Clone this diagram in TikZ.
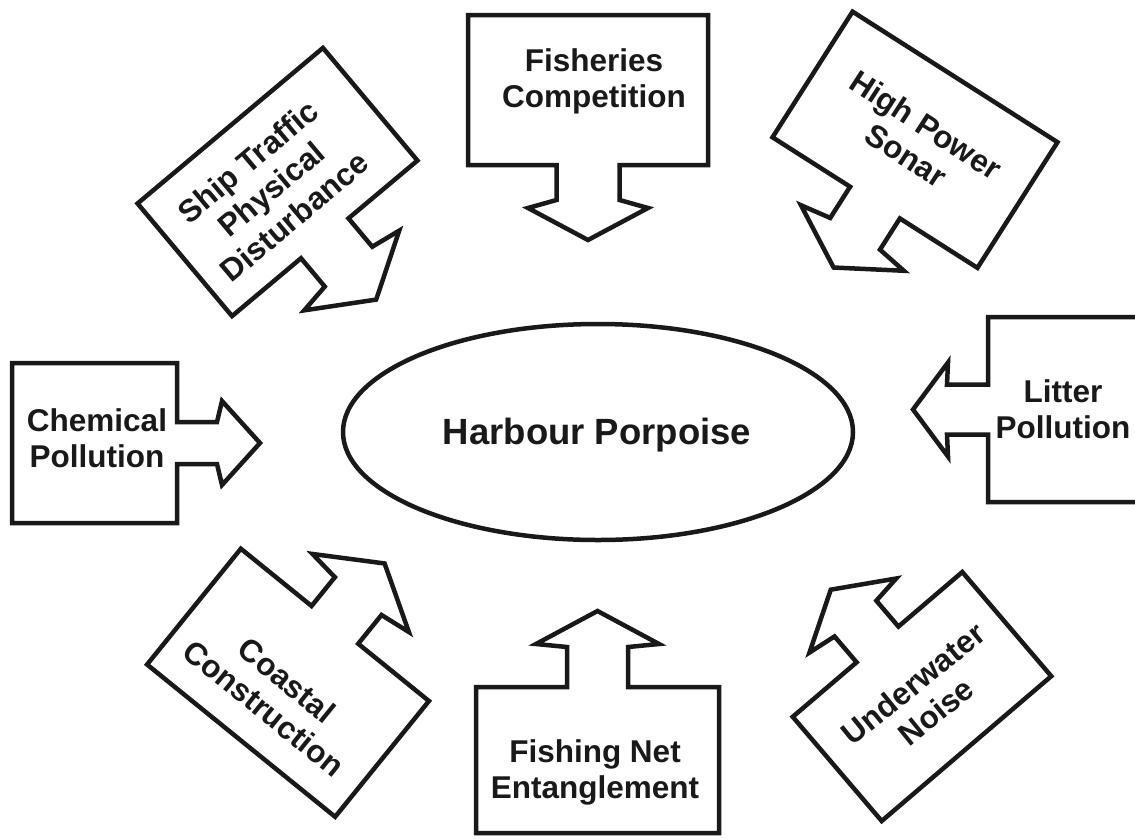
\documentclass[tikz,border=0pt]{standalone}
\usepackage{fontspec}
\setmainfont{Liberation Sans}
\newcommand\cshape[7]{%
  \draw[cobox] ({-#1/2},{-#2/2}) -- ({#1/2},{-#2/2}) -- ({#1/2},{#2/2}) -- ({#3},{#2/2})
    -- ({#3},{#2/2+#4}) -- ({#6},{#2/2+#5}) -- (0,{#2/2+#7}) -- ({-#6},{#2/2+#5})
    -- ({-#3},{#2/2+#4}) -- ({-#3},{#2/2}) -- ({-#1/2},{#2/2}) -- cycle;}
\begin{document}
\begin{tikzpicture}[x=1pt,y=-1pt,
  cobox/.style={draw=black!90, line width=4.5pt, fill=white, line join=miter},
  lbl/.style={font=\fontsize{31.5}{36}\selectfont\bfseries, align=center, inner sep=0pt, text=black!90},
  hub/.style={draw=black!90, line width=4.5pt, ellipse, minimum width=510pt, minimum height=216pt, inner sep=0pt},
  hubtxt/.style={font=\fontsize{36.5}{40}\selectfont\bfseries, inner sep=0pt, text=black!90}]
\useasboundingbox (0,0) rectangle (1135,838);
\fill[white] (0,0) rectangle (1135,838);
% central ellipse
\draw[draw=black!90, line width=4.5pt] (598,432) ellipse [x radius=255, y radius=108];
\node[hubtxt, anchor=base] (hp) at (597,444) {Harbour Porpoise};
% Fisheries Competition
\begin{scope}[shift={(588,90)}, rotate=0]
  \cshape{240}{150}{31.5}{35}{43}{60}{75}
\end{scope}
\node[lbl] (fc) at (594,81) {Fisheries\\Competition};
% Ship Traffic
\begin{scope}[shift={(277.5,182)}, rotate=40]
  \cshape{242}{147}{31}{37}{42}{62}{80}
\end{scope}
\node[lbl, rotate=40] (st) at (271,189) {Ship Traffic\\Physical\\Disturbance};
% High Power Sonar
\begin{scope}[shift={(915,139.75)}, rotate=-32.5]
  \cshape{243}{149}{29.5}{37}{42}{61}{77}
\end{scope}
\node[lbl, rotate=-33] (hs) at (916,140) {High Power\\Sonar};
% Chemical Pollution
\begin{scope}[shift={(94.5,443)}, rotate=90]
  \cshape{160}{165}{21}{40}{45}{42}{83}
\end{scope}
\node[lbl] (cp) at (97,438.5) {Chemical\\Pollution};
% Litter Pollution
\begin{scope}
  \clip (0,0) rectangle (1135,838);
  \begin{scope}[shift={(1074,409.5)}, rotate=-90]
    \cshape{185}{172}{25}{41}{40}{47}{75}
  \end{scope}
\end{scope}
\node[lbl] (lp) at (1063,409.5) {Litter\\Pollution};
% Coastal Construction
\begin{scope}[shift={(288,682.75)}, rotate=141]
  \cshape{242}{149}{30}{37}{41}{62}{79}
\end{scope}
\node[lbl, rotate=-39] (cc) at (275.5,694) {Coastal\\Construction};
% Fishing Net Entanglement
\begin{scope}[shift={(597.5,760)}, rotate=180]
  \cshape{243}{146}{30.5}{40}{43}{61.5}{76}
\end{scope}
\node[lbl] (fn) at (595,772) {Fishing Net\\Entanglement};
% Underwater Noise
\begin{scope}[shift={(922,696.5)}, rotate=-139.5]
  \cshape{223}{137}{27.5}{34}{38}{57}{72}
\end{scope}
\node[lbl, rotate=39] (un) at (924.5,697.5) {Underwater\\Noise};
\end{tikzpicture}
\end{document}
